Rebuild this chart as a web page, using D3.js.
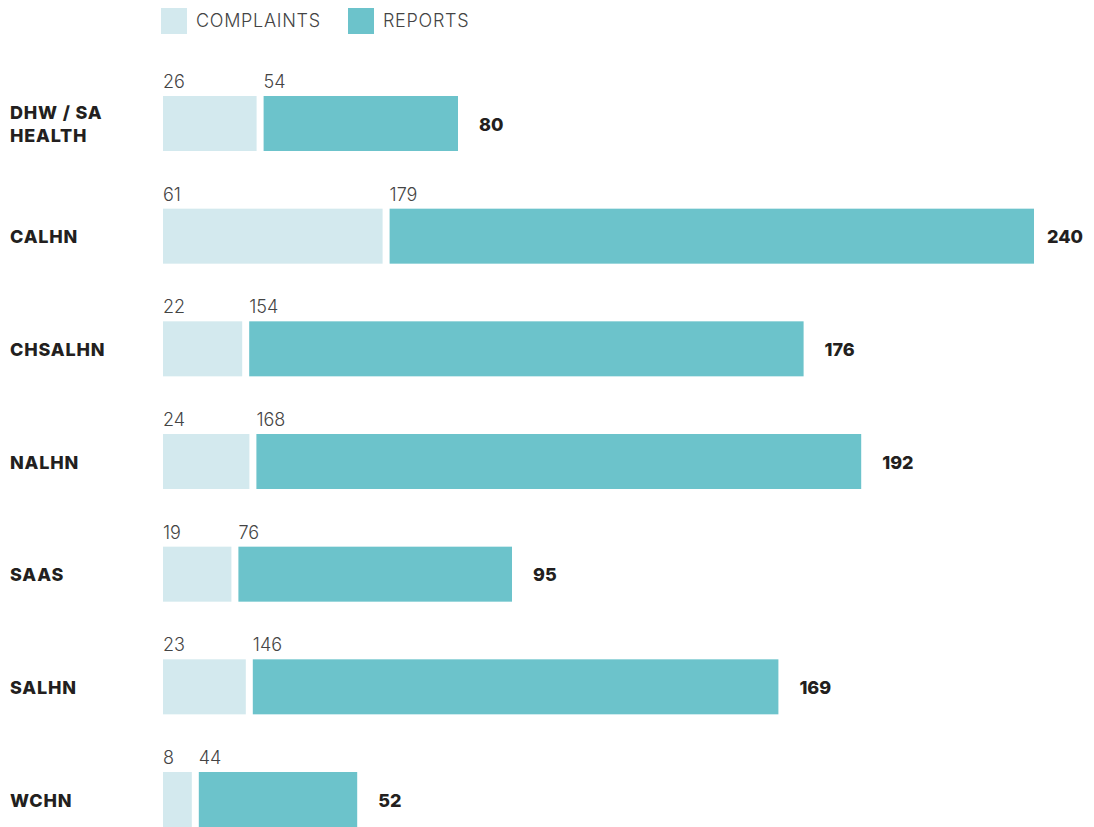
<!DOCTYPE html>
<html>
<head>
<meta charset="utf-8">
<script src="https://cdn.jsdelivr.net/npm/d3@7"></script>
<style>
  body { margin: 0; background: #fff; }
  svg { display: block; font-family: Inter, Lato, sans-serif; }
</style>
</head>
<body>
<svg id="chart" width="1094" height="827"></svg>
<script>
const categories = ["DHW / SA HEALTH", "CALHN", "CHSALHN", "NALHN", "SAAS", "SALHN", "WCHN"];
const complaints = [26, 61, 22, 24, 19, 23, 8];
const reports = [54, 179, 154, 168, 76, 146, 44];
const seriesNames = ["COMPLAINTS", "REPORTS"];

const colors = ["#d3e9ee", "#6cc3cb"];
const gap = 7;

const svg = d3.select("#chart");

const x = d3.scaleLinear().domain([0, 240]).range([0, 864]);
const left = 163;

// row tops spread evenly from first to last bar
const y = d3.scalePoint()
  .domain(categories)
  .range([96, 772]);

const bh = 55;

// legend
const legend = svg.append("g");
const legendX = [161, 348];
seriesNames.forEach((name, i) => {
  legend.append("rect")
    .attr("x", legendX[i]).attr("y", 8)
    .attr("width", 26).attr("height", 26)
    .attr("fill", colors[i]);
  legend.append("text")
    .attr("x", legendX[i] + 35).attr("y", 27)
    .attr("font-size", 18).attr("font-weight", 300)
    .attr("letter-spacing", 0.7)
    .attr("fill", "#444")
    .text(name);
});

const rows = svg.append("g")
  .selectAll("g")
  .data(categories.map((c, i) => ({ c, comp: complaints[i], rep: reports[i] })))
  .join("g")
  .attr("transform", d => `translate(0,${y(d.c)})`);

// complaints
rows.append("rect")
  .attr("x", left)
  .attr("y", 0)
  .attr("width", d => x(d.comp))
  .attr("height", bh)
  .attr("fill", colors[0]);

// reports
rows.append("rect")
  .attr("x", d => left + x(d.comp) + gap)
  .attr("y", 0)
  .attr("width", d => x(d.rep))
  .attr("height", bh)
  .attr("fill", colors[1]);

// value labels above
rows.append("text")
  .attr("x", left)
  .attr("y", -8)
  .attr("font-size", 18).attr("font-weight", 300).attr("fill", "#444")
  .text(d => d.comp);

rows.append("text")
  .attr("x", d => left + x(d.comp) + gap)
  .attr("y", -8)
  .attr("font-size", 18).attr("font-weight", 300).attr("fill", "#444")
  .text(d => d.rep);

// totals
rows.append("text")
  .attr("x", d => Math.min(left + x(d.comp) + gap + x(d.rep) + 21, 1047))
  .attr("y", bh / 2 + 7)
  .attr("font-size", 18).attr("font-weight", 800).attr("fill", "#231f20")
  .text(d => d.comp + d.rep);

// category labels
rows.each(function(d) {
  const g = d3.select(this);
  const words = d.c === "DHW / SA HEALTH" ? ["DHW / SA", "HEALTH"] : [d.c];
  const t = g.append("text")
    .attr("x", 10)
    .attr("font-size", 18).attr("font-weight", 800)
    .attr("letter-spacing", 0.8)
    .attr("fill", "#231f20");
  const lh = 23;
  const y0 = bh / 2 + 7 - (words.length - 1) * lh / 2;
  words.forEach((w, i) => {
    t.append("tspan").attr("x", 10).attr("y", y0 + i * lh).text(w);
  });
});
</script>
</body>
</html>
